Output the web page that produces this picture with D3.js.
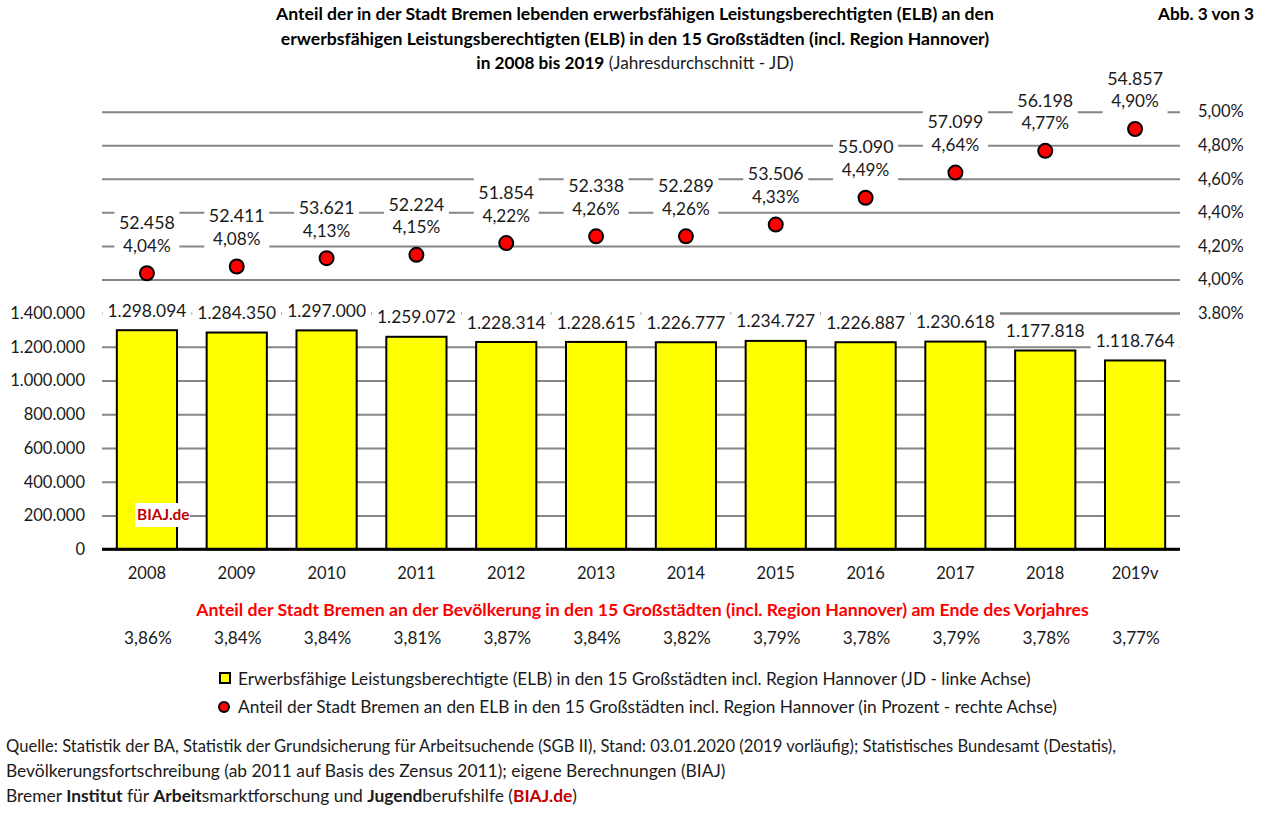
<!DOCTYPE html>
<html lang="de">

<head>
    <meta charset="UTF-8">
    <title>Anteil Bremen ELB</title>
    <script src="https://cdn.jsdelivr.net/npm/d3@7"></script>
    <style>
        * {
            margin: 0;
            padding: 0;
        }

        body {
            background: #fff;
        }

        text {
            font-family: Lato, "Open Sans", sans-serif;
            font-size: 16.5px;
            fill: #1a1a1a;
        }

        .b {
            font-weight: bold;
        }
    </style>
</head>

<body>
    <div id="chart"></div>
    <script>
        const years = ['2008', '2009', '2010', '2011', '2012', '2013', '2014', '2015', '2016', '2017', '2018', '2019v'];
        const elbTotal = [1298094, 1284350, 1297000, 1259072, 1228314, 1228615, 1226777, 1234727, 1226887, 1230618, 1177818, 1118764];
        const elbBremen = [52458, 52411, 53621, 52224, 51854, 52338, 52289, 53506, 55090, 57099, 56198, 54857];
        const shareElb = [4.04, 4.08, 4.13, 4.15, 4.22, 4.26, 4.26, 4.33, 4.49, 4.64, 4.77, 4.90];
        const sharePop = [3.86, 3.84, 3.84, 3.81, 3.87, 3.84, 3.82, 3.79, 3.78, 3.79, 3.78, 3.77];
        const leftTicks = [0, 200000, 400000, 600000, 800000, 1000000, 1200000, 1400000];
        const rightTicks = [3.8, 4.0, 4.2, 4.4, 4.6, 4.8, 5.0];
        const rightTickLabels = ['3.80%', '4,00%', '4,20%', '4,40%', '4,60%', '4,80%', '5,00%'];

        const titleLines = [
            'Anteil der in der Stadt Bremen lebenden erwerbsfähigen Leistungsberechtigten (ELB) an den',
            'erwerbsfähigen Leistungsberechtigten (ELB) in den 15 Großstädten (incl. Region Hannover)'
        ];
        const redHeading = 'Anteil der Stadt Bremen an der Bevölkerung in den 15 Großstädten (incl. Region Hannover) am Ende des Vorjahres';
        const legendLabels = [
            'Erwerbsfähige Leistungsberechtigte (ELB) in den 15 Großstädten incl. Region Hannover (JD - linke Achse)',
            'Anteil der Stadt Bremen an den ELB in den 15 Großstädten incl. Region Hannover (in Prozent - rechte Achse)'
        ];

        const width = 1261;
        const height = 813;
        const plotLeft = 102;
        const plotRight = 1180;

        const de = d3.formatLocale({ decimal: ',', thousands: '.', grouping: [3], currency: ['', '€'] });
        const fmtInt = de.format(',d');
        const fmtPct = v => de.format('.2f')(v) + '%';

        const svg = d3.select('#chart')
            .append('svg')
            .attr('width', width)
            .attr('height', height)
            .style('display', 'block');

        const x = d3.scaleBand()
            .domain(years)
            .range([plotLeft, plotRight])
            .paddingInner(0.33)
            .paddingOuter(0.165);

        const yLeft = d3.scaleLinear().domain([0, 1400000]).range([549.3, 313]);
        const yRight = d3.scaleLinear().domain([3.8, 5.0]).range([313, 111.7]);
        const cx = d => x(d) + x.bandwidth() / 2;

        // Gitterlinien + Achsen
        const leftAxis = d3.axisLeft(yLeft)
            .tickValues(leftTicks)
            .tickFormat(fmtInt)
            .tickSize(plotLeft - plotRight)
            .tickPadding(0);
        const leftG = svg.append('g')
            .attr('transform', `translate(${plotLeft},0)`)
            .call(leftAxis);
        leftG.select('.domain').remove();
        leftG.selectAll('line').attr('stroke', '#868686').attr('stroke-width', 2);
        leftG.selectAll('text').attr('x', -17).attr('fill', '#1a1a1a');

        const rightAxis = d3.axisRight(yRight)
            .tickValues(rightTicks)
            .tickFormat((d, i) => rightTickLabels[i])
            .tickSize(plotLeft - plotRight)
            .tickPadding(0);
        const rightG = svg.append('g')
            .attr('transform', `translate(${plotRight},0)`)
            .call(rightAxis);
        rightG.select('.domain').remove();
        rightG.selectAll('line').attr('stroke', '#868686').attr('stroke-width', 2);
        rightG.selectAll('text').attr('x', 18).attr('fill', '#1a1a1a');

        // weisse Hintergruende der Datenlabels
        svg.append('g').selectAll('rect')
            .data(years)
            .join('rect')
            .attr('x', d => cx(d) - 32.5)
            .attr('width', 65)
            .attr('y', (d, i) => yRight(shareElb[i]) - 66)
            .attr('height', 52)
            .attr('fill', '#fff');

        svg.append('g').selectAll('rect')
            .data(years)
            .join('rect')
            .attr('x', d => cx(d) - 44.5)
            .attr('width', 89)
            .attr('y', (d, i) => yLeft(elbTotal[i]) - 34)
            .attr('height', 27)
            .attr('fill', '#fff');

        // Saeulen
        svg.append('g').selectAll('rect')
            .data(years)
            .join('rect')
            .attr('x', d => x(d))
            .attr('width', x.bandwidth())
            .attr('y', (d, i) => yLeft(elbTotal[i]))
            .attr('height', (d, i) => yLeft(0) - yLeft(elbTotal[i]))
            .attr('fill', '#ffff00')
            .attr('stroke', '#000')
            .attr('stroke-width', 2);

        svg.append('line')
            .attr('x1', plotLeft).attr('x2', plotRight)
            .attr('y1', yLeft(0)).attr('y2', yLeft(0))
            .attr('stroke', '#000').attr('stroke-width', 3);

        // Punkte
        svg.append('g').selectAll('circle')
            .data(years)
            .join('circle')
            .attr('cx', d => cx(d))
            .attr('cy', (d, i) => yRight(shareElb[i]) + 0.5)
            .attr('r', 7)
            .attr('fill', '#ff0000')
            .attr('stroke', '#000')
            .attr('stroke-width', 2);

        // Datenlabels
        function rowLabels(values, fmt, yFn, size, dx) {
            svg.append('g').selectAll('text')
                .data(years)
                .join('text')
                .attr('x', d => cx(d) + (dx || 0))
                .attr('y', yFn)
                .attr('dy', '0.35em')
                .attr('text-anchor', 'middle')
                .style('font-size', size + 'px')
                .text((d, i) => fmt(values[i]));
        }
        rowLabels(elbBremen, fmtInt, (d, i) => yRight(shareElb[i]) - 50, 17.8);
        rowLabels(shareElb, fmtPct, (d, i) => yRight(shareElb[i]) - 27, 17.2);
        rowLabels(elbTotal, fmtInt, (d, i) => yLeft(elbTotal[i]) - 19.5, 17.4);
        rowLabels(sharePop, fmtPct, () => 638, 17.2, 1);

        svg.append('g').selectAll('text')
            .data(years)
            .join('text')
            .attr('x', d => cx(d))
            .attr('y', 573)
            .attr('dy', '0.35em')
            .attr('text-anchor', 'middle')
            .text(d => d);

        // BIAJ.de Stempel
        svg.append('rect')
            .attr('x', 135).attr('y', 503).attr('width', 55).attr('height', 24)
            .attr('fill', '#fff');
        svg.append('text')
            .attr('class', 'b')
            .attr('x', 137).attr('y', 515).attr('dy', '0.35em')
            .style('fill', '#c00000')
            .style('font-size', '15.4px')
            .text('BIAJ.de');

        // Titel
        titleLines.forEach((t, i) => {
            svg.append('text')
                .attr('class', 'b')
                .attr('x', 635).attr('y', 14 + i * 25).attr('dy', '0.35em')
                .attr('text-anchor', 'middle')
                .style('font-size', '17.6px')
                .style('fill', '#000')
                .text(t);
        });
        const t3 = svg.append('text')
            .attr('x', 635).attr('y', 63).attr('dy', '0.35em')
            .attr('text-anchor', 'middle')
            .style('font-size', '17.2px');
        t3.append('tspan').attr('class', 'b').style('fill', '#000').text('in 2008 bis 2019');
        t3.append('tspan').text(' (Jahresdurchschnitt - JD)');

        svg.append('text')
            .attr('class', 'b')
            .attr('x', 1254).attr('y', 14).attr('dy', '0.35em')
            .attr('text-anchor', 'end')
            .style('font-size', '17.2px')
            .style('fill', '#000')
            .text('Abb. 3 von 3');

        svg.append('text')
            .attr('class', 'b')
            .attr('x', 642.5).attr('y', 610).attr('dy', '0.35em')
            .attr('text-anchor', 'middle')
            .style('fill', '#ff0000')
            .style('font-size', '17.7px')
            .text(redHeading);

        // Legende
        svg.append('rect')
            .attr('x', 220).attr('y', 673).attr('width', 10).attr('height', 10)
            .attr('fill', '#ffff00').attr('stroke', '#000').attr('stroke-width', 2);
        svg.append('circle')
            .attr('cx', 224).attr('cy', 707).attr('r', 5)
            .attr('fill', '#ff0000').attr('stroke', '#000').attr('stroke-width', 2);
        legendLabels.forEach((t, i) => {
            svg.append('text')
                .attr('x', 238).attr('y', 679 + i * 28).attr('dy', '0.35em')
                .style('font-size', '17.3px')
                .text(t);
        });

        // Quelle
        const foot = [
            [['Quelle: Statistik der BA, Statistik der Grundsicherung für Arbeitsuchende (SGB II), Stand: 03.01.2020 (2019 vorläufig); Statistisches Bundesamt (Destatis),']],
            [['Bevölkerungsfortschreibung (ab 2011 auf Basis des Zensus 2011); eigene Berechnungen (BIAJ)']],
            [['Bremer '], ['Institut', 1], [' für '], ['Arbeit', 1], ['smarktforschung und '], ['Jugend', 1], ['berufshilfe ('], ['BIAJ.de', 2], [')']]
        ];
        foot.forEach((parts, i) => {
            const t = svg.append('text')
                .attr('x', 6).attr('y', 746 + i * 25).attr('dy', '0.35em')
                .style('font-size', '17.4px');
            if (i === 0) t.attr('textLength', 1110).attr('lengthAdjust', 'spacingAndGlyphs');
            parts.forEach(p => {
                t.append('tspan')
                    .attr('class', p[1] ? 'b' : null)
                    .style('fill', p[1] === 2 ? '#c00000' : null)
                    .text(p[0]);
            });
        });
    </script>
</body>

</html>
